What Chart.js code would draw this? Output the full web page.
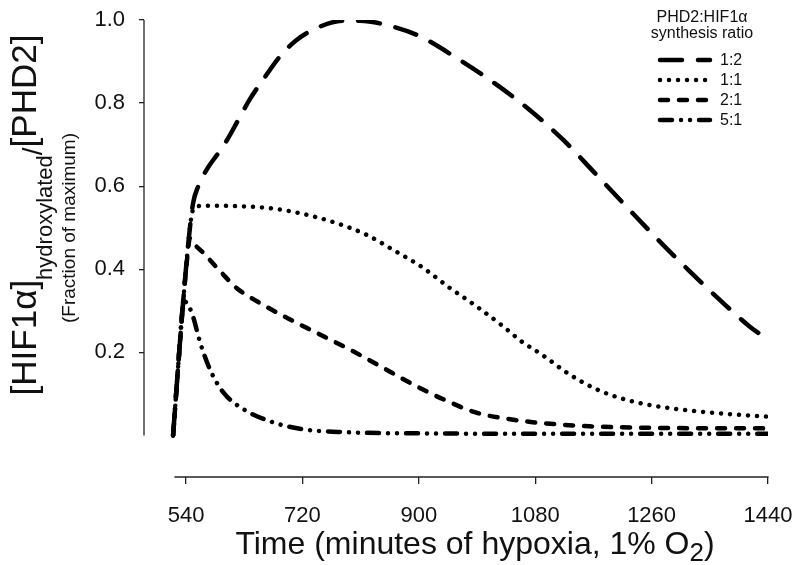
<!DOCTYPE html>
<html>
<head>
<meta charset="utf-8">
<title>Hydroxylated HIF1α / PHD2 over hypoxia</title>
<script src="https://cdn.jsdelivr.net/npm/chart.js@4.4.1/dist/chart.umd.min.js"></script>
<style>
  html, body { margin: 0; padding: 0; background: #fff; }
  #wrap { width: 800px; height: 565px; position: relative; }
</style>
</head>
<body>
<div id="wrap"><canvas id="hifChart"></canvas></div>
<script>
// ============================================
// Data
// time = minutes of hypoxia, value = fraction of maximum
// ============================================
const seriesLabels = ['1:2', '1:1', '2:1', '5:1'];

const time12  = [520, 528, 536, 544, 551, 559, 572, 590, 603, 621, 639, 659, 685, 711, 747, 783, 809, 850, 900, 963, 1017, 1071, 1123, 1172, 1221, 1270, 1319, 1365, 1411, 1440];
const value12 = [0, 0.17, 0.33, 0.47, 0.56, 0.60, 0.64, 0.68, 0.71, 0.76, 0.81, 0.856, 0.912, 0.952, 0.984, 0.998, 0.998, 0.988, 0.962, 0.904, 0.848, 0.784, 0.712, 0.632, 0.551, 0.471, 0.395, 0.327, 0.263, 0.231];

const time11  = [520, 528, 536, 544, 550, 556, 574, 618, 670, 716, 773, 819, 860, 907, 948, 989, 1030, 1060, 1090, 1133, 1175, 1218, 1262, 1319, 1375, 1440];
const value11 = [0, 0.17, 0.33, 0.47, 0.54, 0.551, 0.553, 0.552, 0.547, 0.535, 0.511, 0.483, 0.447, 0.403, 0.355, 0.311, 0.263, 0.225, 0.195, 0.147, 0.111, 0.087, 0.072, 0.060, 0.052, 0.045];

const time21  = [520, 528, 536, 542, 546, 552, 567, 593, 618, 654, 701, 747, 793, 840, 886, 938, 989, 1046, 1076, 1164, 1283, 1440];
const value21 = [0, 0.17, 0.33, 0.43, 0.475, 0.462, 0.439, 0.395, 0.355, 0.319, 0.279, 0.243, 0.207, 0.167, 0.127, 0.087, 0.055, 0.038, 0.032, 0.022, 0.018, 0.017];

const time51  = [520, 528, 533, 537, 541, 549, 562, 577, 598, 629, 670, 716, 783, 912, 1100, 1440];
const value51 = [0, 0.17, 0.28, 0.325, 0.318, 0.295, 0.223, 0.159, 0.103, 0.063, 0.034, 0.016, 0.008, 0.005, 0.004, 0.004];

const xTicks = [540, 720, 900, 1080, 1260, 1440];
const yTicks = [0.2, 0.4, 0.6, 0.8, 1.0];

const FONT = "'Liberation Sans', Arial, Helvetica, sans-serif";
const INK = '#111';

// long dash, dotted, medium dash, dash-dot-dot
const dashPatterns = [[22, 16], [0.01, 9], [8, 11], [12, 9, 0.01, 9, 0.01, 9]];

const toPoints = (ts, vs) => ts.map((t, i) => ({ x: t, y: vs[i] }));
const allSeries = [toPoints(time12, value12), toPoints(time11, value11), toPoints(time21, value21), toPoints(time51, value51)];

// draw a run of text pieces (each with own size and baseline shift)
function drawPieces(ctx, pieces, startX) {
    let x = startX;
    pieces.forEach(p => {
        ctx.font = p.size + 'px ' + FONT;
        ctx.fillText(p.text, x, p.shift);
        x += ctx.measureText(p.text).width;
    });
}
function piecesWidth(ctx, pieces) {
    return pieces.reduce((w, p) => {
        ctx.font = p.size + 'px ' + FONT;
        return w + ctx.measureText(p.text).width;
    }, 0);
}

// keep the plot box fixed: no extra room for overhanging tick labels
function fixScale(scale, size) {
    if (scale.isHorizontal()) scale.height = size; else scale.width = size;
    scale.paddingLeft = 0;
    scale.paddingRight = 0;
    scale.paddingTop = 0;
    scale.paddingBottom = 0;
}

// Axis lines, axis titles and the legend box
const decorations = {
    id: 'decorations',
    afterDraw(chart) {
        const { ctx, scales: { x, y } } = chart;
        ctx.save();

        // axis lines (the y axis stops at zero, the x axis sits apart below it)
        ctx.strokeStyle = '#222';
        ctx.lineWidth = 1.3;
        ctx.beginPath();
        ctx.moveTo(chart.chartArea.left, y.getPixelForValue(1.0));
        ctx.lineTo(chart.chartArea.left, y.getPixelForValue(0));
        ctx.stroke();
        ctx.beginPath();
        ctx.moveTo(x.getPixelForValue(522), chart.chartArea.bottom);
        ctx.lineTo(x.getPixelForValue(1440) + 0.6, chart.chartArea.bottom);
        ctx.stroke();

        ctx.fillStyle = INK;
        ctx.textBaseline = 'alphabetic';
        ctx.textAlign = 'left';

        // y title, rotated
        const yMain = [
            { text: '[HIF1α]', size: 35, shift: 0 },
            { text: 'hydroxylated', size: 22, shift: 16 },
            { text: '/', size: 28, shift: 6 },
            { text: '[PHD2]', size: 35, shift: 0 }
        ];
        ctx.save();
        ctx.translate(36, 215);
        ctx.rotate(-Math.PI / 2);
        drawPieces(ctx, yMain, -piecesWidth(ctx, yMain) / 2);
        ctx.restore();

        const ySub = [{ text: '(Fraction of maximum)', size: 19, shift: 0 }];
        ctx.save();
        ctx.translate(75, 228);
        ctx.rotate(-Math.PI / 2);
        drawPieces(ctx, ySub, -piecesWidth(ctx, ySub) / 2);
        ctx.restore();

        // x title with subscript
        const xTitle = [
            { text: 'Time (minutes of hypoxia, 1% O', size: 32, shift: 0 },
            { text: '2', size: 26, shift: 7 },
            { text: ')', size: 32, shift: 0 }
        ];
        ctx.save();
        ctx.translate(0, 554);
        drawPieces(ctx, xTitle, 475 - piecesWidth(ctx, xTitle) / 2);
        ctx.restore();

        // legend
        ctx.textAlign = 'center';
        ctx.font = '16px ' + FONT;
        ctx.fillText('PHD2:HIF1α', 702, 22);
        ctx.fillText('synthesis ratio', 702, 38);

        ctx.textAlign = 'left';
        ctx.textBaseline = 'middle';
        chart.data.datasets.forEach((ds, i) => {
            const ly = 60 + i * 20;
            ctx.save();
            ctx.strokeStyle = ds.borderColor;
            ctx.lineWidth = ds.borderWidth;
            ctx.lineCap = 'round';
            ctx.setLineDash(ds.borderDash);
            ctx.beginPath();
            ctx.moveTo(660, ly);
            ctx.lineTo(710, ly);
            ctx.stroke();
            ctx.restore();
            ctx.fillText(ds.label, 720, ly + 1);
        });

        ctx.restore();
    }
};

const ctx = document.getElementById('hifChart').getContext('2d');
const hifChart = new Chart(ctx, {
    type: 'line',
    data: {
        datasets: allSeries.map((pts, i) => ({
            label: seriesLabels[i],
            data: pts,
            borderColor: '#000',
            borderWidth: 4.5,
            borderDash: dashPatterns[i],
            borderCapStyle: 'round',
            borderJoinStyle: 'round',
            cubicInterpolationMode: 'monotone',
            pointRadius: 0,
            fill: false
        }))
    },
    options: {
        responsive: true,
        maintainAspectRatio: false,
        animation: false,
        layout: { padding: { top: 20, right: 32, left: 0, bottom: 0 } },
        plugins: {
            legend: { display: false },
            tooltip: { enabled: false }
        },
        scales: {
            x: {
                type: 'linear',
                min: 475,
                max: 1440,
                afterBuildTicks: scale => { scale.ticks = xTicks.map(v => ({ value: v })); },
                afterFit: scale => fixScale(scale, 88),
                border: { display: false },
                grid: { drawOnChartArea: false, drawTicks: true, tickLength: 7, color: '#222', lineWidth: 1.3 },
                ticks: {
                    color: INK,
                    padding: 19,
                    maxRotation: 0,
                    font: { family: FONT, size: 22 },
                    callback: v => String(v)
                }
            },
            y: {
                type: 'linear',
                min: -0.1,
                max: 1.0,
                afterBuildTicks: scale => { scale.ticks = yTicks.map(v => ({ value: v })); },
                afterFit: scale => fixScale(scale, 144),
                border: { display: false },
                grid: { drawOnChartArea: false, drawTicks: true, tickLength: 5, color: '#222', lineWidth: 1.3 },
                ticks: {
                    color: INK,
                    padding: 14,
                    font: { family: FONT, size: 22 },
                    callback: v => v.toFixed(1)
                }
            }
        }
    },
    plugins: [decorations]
});
</script>
</body>
</html>
